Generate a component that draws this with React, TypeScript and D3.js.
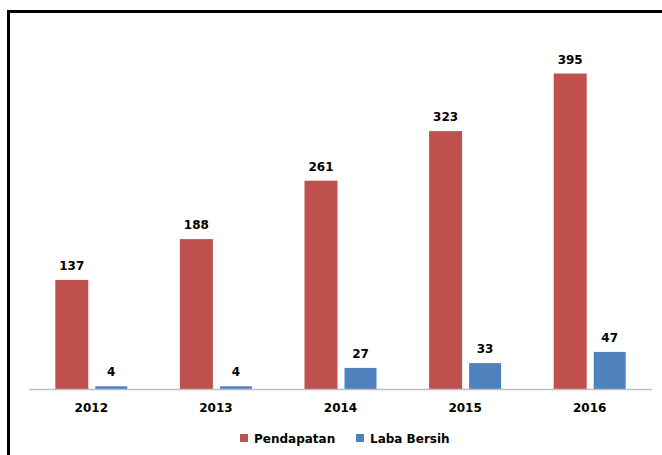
import React from "react";
import * as d3 from "d3";

const categories = ["2012", "2013", "2014", "2015", "2016"];
const pendapatan = [137, 188, 261, 323, 395];
const labaBersih = [4, 4, 27, 33, 47];
const seriesNames = ["Pendapatan", "Laba Bersih"];
const colors = ["#C0504D", "#4F81BD"];

export default function App() {
  const W = 662, H = 455;
  const x0 = 29, x1 = 652, yBase = 389.5;
  const x = d3.scaleBand<string>().domain(categories).range([x0, x1]);
  const y = d3.scaleLinear().domain([0, 395]).range([yBase, 73.5]);
  const font = "'DejaVu Sans', Verdana, sans-serif";
  const series = [pendapatan, labaBersih];
  const offsets = [[-36, -3], [4, 36]];
  return (
    <svg width={W} height={H} style={{ position: "fixed", left: 0, top: 0, background: "#fff" }}>
      <rect x={0} y={0} width={W} height={H} fill="#fff" />
      <rect x={8.5} y={11.5} width={W + 20} height={H + 20} fill="none" stroke="#000" strokeWidth={3} />
      {series.map((vals, si) =>
        vals.map((v, i) => {
          const c = (x(categories[i]) as number) + x.bandwidth() / 2;
          const bx = c + offsets[si][0];
          const bw = offsets[si][1] - offsets[si][0];
          return (
            <g key={`${si}-${i}`}>
              <rect x={bx} y={y(v)} width={bw} height={yBase - y(v)} fill={colors[si]} />
              <text x={bx + bw / 2} y={y(v) - 10} textAnchor="middle" fontFamily={font} fontWeight="bold" fontSize={12} fill="#000">
                {v}
              </text>
            </g>
          );
        })
      )}
      <line x1={x0} x2={x1} y1={yBase} y2={yBase} stroke="#BFBFBF" strokeWidth={1.5} />
      {categories.map((c) => (
        <text key={c} x={(x(c) as number) + x.bandwidth() / 2} y={412} textAnchor="middle" fontFamily={font} fontWeight="bold" fontSize={12} fill="#000">
          {c}
        </text>
      ))}
      {seriesNames.map((n, i) => {
        const lx = [240, 356][i];
        return (
          <g key={n}>
            <rect x={lx} y={434} width={8} height={8} fill={colors[i]} />
            <text x={lx + 14} y={443} fontFamily={font} fontWeight="bold" fontSize={12} fill="#000">
              {n}
            </text>
          </g>
        );
      })}
    </svg>
  );
}
